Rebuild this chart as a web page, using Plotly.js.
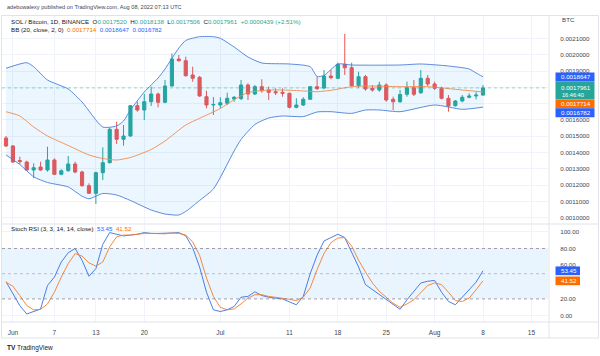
<!DOCTYPE html>
<html>
<head>
<meta charset="utf-8">
<script src="https://cdn.plot.ly/plotly-3.0.1.min.js"></script>
<style>html,body{margin:0;padding:0;background:#fff;}#chart{width:600px;height:356px;}</style>
</head>
<body>
<div id="chart"></div>
<script>
// ---- data (SOL / BTC, daily, 2022-05-31 .. 2022-08-08) ----
const startDate = '2022-05-31';
const openP = [0.0014890,0.0014399,0.0013509,0.0013417,0.0012926,0.0013110,0.0012926,0.0013540,0.0012663,0.0012883,
0.0013294,0.0012804,0.0011963,0.0011497,0.0012761,0.0013374,0.0015423,0.0014810,0.0015012,0.0016871,
0.0016607,0.0017117,0.0017589,0.0017080,0.0018080,0.0019736,0.0019632,0.0018755,0.0018613,0.0017423,
0.0016914,0.0016914,0.0017019,0.0017282,0.0017301,0.0018141,0.0017589,0.0018037,0.0017834,0.0017730,
0.0017693,0.0017632,0.0016773,0.0016914,0.0017264,0.0018037,0.0017957,0.0018693,0.0018552,0.0019411,
0.0019203,0.0018098,0.0018650,0.0017939,0.0017834,0.0018141,0.0017264,0.0017117,0.0017571,0.0017976,
0.0017669,0.0018552,0.0018202,0.0017939,0.0017325,0.0016871,0.0017160,0.0017387,0.0017466,0.0017520];
const highP = [0.0015012,0.0014460,0.0013742,0.0013497,0.0013337,0.0013436,0.0014356,0.0013644,0.0012969,0.0013785,
0.0013436,0.0012883,0.0012110,0.0012822,0.0014319,0.0015522,0.0015890,0.0015687,0.0016914,0.0017117,
0.0017589,0.0018037,0.0017669,0.0018448,0.0020086,0.0019982,0.0019877,0.0019264,0.0018693,0.0017791,
0.0017405,0.0017387,0.0017669,0.0017466,0.0018448,0.0018245,0.0018141,0.0018491,0.0018037,0.0017939,
0.0017939,0.0017669,0.0017325,0.0017387,0.0018080,0.0018650,0.0019061,0.0019061,0.0019509,0.0021270,
0.0019509,0.0018957,0.0018755,0.0018141,0.0018344,0.0018245,0.0017423,0.0017834,0.0018344,0.0018448,
0.0019061,0.0018755,0.0018344,0.0018037,0.0017528,0.0017221,0.0017528,0.0017632,0.0017730,0.0018138];
const lowP = [0.0014338,0.0013374,0.0013294,0.0012883,0.0012417,0.0012883,0.0012822,0.0012620,0.0012601,0.0012822,
0.0012724,0.0011902,0.0011454,0.0010840,0.0012313,0.0013337,0.0014521,0.0014417,0.0014969,0.0016503,
0.0015994,0.0016853,0.0016773,0.0017019,0.0018037,0.0019571,0.0018650,0.0018344,0.0017423,0.0016712,
0.0016301,0.0016712,0.0016914,0.0017117,0.0017221,0.0017221,0.0017528,0.0017669,0.0017221,0.0017528,
0.0017423,0.0016712,0.0016712,0.0016853,0.0017221,0.0017834,0.0017877,0.0018491,0.0018491,0.0018755,
0.0018037,0.0017939,0.0017791,0.0017730,0.0017730,0.0017117,0.0016607,0.0017037,0.0017423,0.0017466,
0.0017589,0.0018080,0.0017834,0.0017264,0.0016503,0.0016810,0.0017080,0.0017325,0.0017264,0.0017506];
const closeP = [0.0014399,0.0013417,0.0013448,0.0012926,0.0013068,0.0012926,0.0013540,0.0012663,0.0012883,0.0013294,
0.0012804,0.0011963,0.0011497,0.0012761,0.0013374,0.0015423,0.0014810,0.0015012,0.0016871,0.0016607,
0.0017117,0.0017589,0.0017080,0.0018080,0.0019736,0.0019632,0.0018712,0.0018552,0.0017466,0.0016914,
0.0016945,0.0017055,0.0017325,0.0017387,0.0018141,0.0017589,0.0018037,0.0017791,0.0017693,0.0017669,
0.0017632,0.0016773,0.0016914,0.0017264,0.0018037,0.0017914,0.0018693,0.0018589,0.0019411,0.0019203,
0.0018098,0.0018650,0.0017896,0.0017834,0.0018141,0.0017221,0.0017117,0.0017558,0.0017976,0.0017571,
0.0018552,0.0018202,0.0017939,0.0017325,0.0016853,0.0017160,0.0017387,0.0017466,0.0017522,0.0017961];

// Bollinger bands (day index from startDate, value)
const bbUpperDay = [0,3,4,6,9,11,14,16,17,18,20,22,23,25,26,28,30,31,33,35,37,41,44,45,46,48,50,57,60,64,67,68,69];
const bbUpper = [0.0019166,0.0019509,0.0019264,0.0018448,0.0017896,0.0017098,0.0015564,0.0015626,0.0015932,0.0016607,
0.0017712,0.0018571,0.0019123,0.0020411,0.0020871,0.0021104,0.0021104,0.0021006,0.0020472,0.0019859,
0.0019491,0.0019430,0.0019264,0.0018663,0.0018724,0.0019430,0.0019368,0.0019368,0.0019430,0.0019307,
0.0019123,0.0018877,0.0018647];
const bbBasisDay = [0,2,4,6,9,12,14,16,18,21,23,26,28,31,33,35,38,40,42,45,47,50,52,57,61,66,69];
const bbBasis = [0.0016503,0.0016239,0.0015564,0.0015012,0.0014429,0.0013847,0.0013632,0.0013540,0.0013693,0.0014184,
0.0014706,0.0015687,0.0016098,0.0016699,0.0017239,0.0017681,0.0017834,0.0017834,0.0017804,0.0017730,
0.0017816,0.0018037,0.0018080,0.0018037,0.0018037,0.0017834,0.0017714];
const bbLowerDay = [0,2,4,6,9,11,12,14,16,18,21,23,25,26,28,30,33,34,36,38,40,43,45,47,50,52,54,57,62,66,69];
const bbLower = [0.0013847,0.0013264,0.0012509,0.0012160,0.0011883,0.0011319,0.0011160,0.0011485,0.0011393,0.0011055,
0.0010472,0.0010227,0.0010166,0.0010380,0.0011055,0.0011761,0.0014092,0.0014798,0.0015718,0.0016117,
0.0016239,0.0016202,0.0016485,0.0016503,0.0016399,0.0016607,0.0016607,0.0016503,0.0016914,0.0016650,
0.0016782];

// Stoch RSI (one value per day)
const stochK = [40.5,27,12,2,5,8,36,46,64,75,80,66,47,56,85,99,97,95,96,97,
99,98,98,98,98.5,99,95,81,58,28,7,5,7,11,22,23,28.5,24,22,21,
20,16.5,13,23,50,72,89,93,97,93,75,58,37,31,25,19,13,7.6,19,29,
39,41,42,28,17,13,22,30,40,53.45];
const stochD = [40,35,24,12,7,7.5,14,28,46,62,74,71,63,59,64,82,94,96,96,97,
98,98,97.5,97.5,98.5,98,96,88,72,45,23,10,7,8,14,21,25,25,23,22,
21,19.5,18,22,33,55,74,87,92.5,93,83,66,52,39,29,22,15,10,14,19,
27,36,39,37,28,18,17,21,31,41.52];

const tickDates = ['2022-06-01','2022-06-07','2022-06-13','2022-06-20','2022-07-01','2022-07-11','2022-07-18','2022-07-25','2022-08-01','2022-08-08','2022-08-15'];
const tickText = ['Jun','7','13','20','Jul','11','18','25','Aug','8','15'];
const priceTicks = [0.0010,0.0011,0.0012,0.0013,0.0014,0.0015,0.0016,0.0017,0.0018,0.0019,0.0020,0.0021];
const rsiTicks = [0,20,40,60,80,100];

// ---- build ----
function dayStr(i){const d=new Date(startDate+'T00:00:00Z');d.setUTCDate(d.getUTCDate()+i);return d.toISOString().slice(0,10);}
const dates = openP.map((_,i)=>dayStr(i));
const toDates = arr => arr.map(dayStr);

const GREEN='#26a69a', RED='#ef5350', BLUE='#2962FF', ORANGE='#FF6D00';
const BANDBLUE='#4a7fd8', BASIS='#f58a4b';
const F="'Liberation Sans', Arial, sans-serif";

const traces = [
 {type:'scatter',mode:'lines',x:toDates(bbUpperDay),y:bbUpper,line:{color:BANDBLUE,width:0.9,shape:'spline',smoothing:0.6},xaxis:'x',yaxis:'y',hoverinfo:'skip'},
 {type:'scatter',mode:'lines',x:toDates(bbLowerDay),y:bbLower,line:{color:BANDBLUE,width:0.9,shape:'spline',smoothing:0.6},fill:'tonexty',fillcolor:'rgba(33,150,243,0.09)',xaxis:'x',yaxis:'y',hoverinfo:'skip'},
 {type:'scatter',mode:'lines',x:toDates(bbBasisDay),y:bbBasis,line:{color:BASIS,width:0.9,shape:'spline',smoothing:0.6},xaxis:'x',yaxis:'y',hoverinfo:'skip'},
 {type:'candlestick',x:dates,open:openP,high:highP,low:lowP,close:closeP,
  increasing:{line:{color:GREEN,width:1},fillcolor:GREEN},
  decreasing:{line:{color:RED,width:1},fillcolor:RED},
  whiskerwidth:0,xaxis:'x',yaxis:'y',hoverinfo:'skip'},
 {type:'scatter',mode:'lines',x:dates,y:stochK,line:{color:'#3b6fe0',width:0.9},xaxis:'x',yaxis:'y2',hoverinfo:'skip'},
 {type:'scatter',mode:'lines',x:dates,y:stochD,line:{color:'#f57c2c',width:0.9},xaxis:'x',yaxis:'y2',hoverinfo:'skip'}
];

// pixel -> paper helpers (plot area: x 2..548, y 16..322)
const L=2, R=52, T=16, B=34, W=600, H=356;
const pw=W-L-R, ph=H-T-B;
const px = v => (v-L)/pw;
const py = v => (H-B-v)/ph;

const last = closeP.length-1;
const f7 = v => v.toFixed(7);
const K = stochK[last], D = stochD[last];

const shapes = [
 // RSI band
 {type:'rect',xref:'paper',x0:0,x1:1,yref:'y2',y0:20,y1:80,fillcolor:'rgba(33,150,243,0.1)',line:{width:0},layer:'below'},
 {type:'line',xref:'paper',x0:0,x1:1,yref:'y2',y0:80,y1:80,line:{color:'rgba(120,123,134,0.7)',width:1,dash:'3px,3px'}},
 {type:'line',xref:'paper',x0:0,x1:1,yref:'y2',y0:50,y1:50,line:{color:'rgba(120,123,134,0.45)',width:1,dash:'3px,3px'}},
 {type:'line',xref:'paper',x0:0,x1:1,yref:'y2',y0:20,y1:20,line:{color:'rgba(120,123,134,0.7)',width:1,dash:'3px,3px'}},
 // last price line
 {type:'line',xref:'paper',x0:0,x1:1,yref:'y',y0:closeP[last],y1:closeP[last],line:{color:'rgba(38,166,154,0.45)',width:1,dash:'dot'}},
 // frame & separators
 {type:'rect',xref:'paper',yref:'paper',x0:px(1.5),x1:px(598.5),y0:py(338),y1:py(15.5),line:{color:'#e0e3eb',width:1}},
 {type:'line',xref:'paper',yref:'paper',x0:px(1.5),x1:px(598.5),y0:py(224),y1:py(224),line:{color:'#e0e3eb',width:1}},
 {type:'line',xref:'paper',yref:'paper',x0:px(1.5),x1:px(598.5),y0:py(322),y1:py(322),line:{color:'#e0e3eb',width:1}},
 {type:'line',xref:'paper',yref:'paper',x0:px(549),x1:px(549),y0:py(338),y1:py(15.5),line:{color:'#e0e3eb',width:1}},
 // right-scale label boxes
 {type:'rect',xref:'paper',yref:'paper',x0:px(555.5),x1:px(594.5),y0:py(81.5),y1:py(72.5),fillcolor:BLUE,line:{width:0}},
 {type:'rect',xref:'paper',yref:'paper',x0:px(555.5),x1:px(594.5),y0:py(99),y1:py(81.5),fillcolor:GREEN,line:{width:0}},
 {type:'rect',xref:'paper',yref:'paper',x0:px(555.5),x1:px(594.5),y0:py(108.3),y1:py(99.3),fillcolor:ORANGE,line:{width:0}},
 {type:'rect',xref:'paper',yref:'paper',x0:px(555.5),x1:px(594.5),y0:py(117.3),y1:py(108.3),fillcolor:BLUE,line:{width:0}},
 {type:'rect',xref:'paper',yref:'y2',x0:px(555.5),x1:px(580),y0:K-5.2,y1:K+5.2,fillcolor:BLUE,line:{width:0}},
 {type:'rect',xref:'paper',yref:'y2',x0:px(555.5),x1:px(580),y0:D-5.2,y1:D+5.2,fillcolor:ORANGE,line:{width:0}}
];

const fs=6.2;
const grayC='#131722';
const ann = (x,y,text,opts={}) => Object.assign({xref:'paper',yref:'paper',x:px(x),y:py(y),text:text,showarrow:false,xanchor:'left',yanchor:'middle',font:{family:F,size:fs,color:grayC}},opts);
const sp='\u00a0\u00a0';
const teal = s => '<span style="color:'+GREEN+'">'+s+'</span>';
const chg = closeP[last]-closeP[last-1];
const chgPct = chg/closeP[last-1]*100;

const annotations = [
 ann(5,7,'adebowalexy published on TradingView.com, Aug 08, 2022 07:13 UTC',{font:{family:F,size:5.6,color:'#434651'}}),
 ann(9,21,'SOL / Bitcoin, 1D, BINANCE'+sp+'O'+teal(f7(openP[last]))+sp+'H'+teal(f7(highP[last]))+sp+'L'+teal(f7(lowP[last]))+sp+'C'+teal(f7(closeP[last]))+sp+teal('+'+f7(chg)+' (+'+chgPct.toFixed(2)+'%)')),
 ann(9,30,'BB (20, close, 2, 0)'+sp+'<span style="color:'+ORANGE+'">'+f7(bbBasis[bbBasis.length-1])+'</span>'+sp+'<span style="color:'+BLUE+'">'+f7(bbUpper[bbUpper.length-1])+'</span>'+sp+'<span style="color:'+BLUE+'">'+f7(bbLower[bbLower.length-1])+'</span>'),
 ann(9,228,'Stoch RSI (3, 3, 14, 14, close)'+sp+'<span style="color:'+BLUE+'">'+K.toFixed(2)+'</span>'+sp+'<span style="color:'+ORANGE+'">'+D.toFixed(2)+'</span>'),
 ann(560,20,'BTC',{font:{family:F,size:fs,color:'#434651'}}),
 ann(558.5,77,f7(bbUpper[bbUpper.length-1]),{font:{family:F,size:fs,color:'#fff'}}),
 ann(558.5,87.5,f7(closeP[last]),{font:{family:F,size:fs,color:'#fff'}}),
 ann(560,95,'16:46:40',{font:{family:F,size:5.6,color:'#fff'}}),
 ann(558.5,103.8,f7(bbBasis[bbBasis.length-1]),{font:{family:F,size:fs,color:'#fff'}}),
 ann(558.5,112.8,f7(bbLower[bbLower.length-1]),{font:{family:F,size:fs,color:'#fff'}}),
 {xref:'paper',yref:'y2',x:px(558.5),y:K,text:K.toFixed(2),showarrow:false,xanchor:'left',yanchor:'middle',font:{family:F,size:fs,color:'#fff'}},
 {xref:'paper',yref:'y2',x:px(558.5),y:D,text:D.toFixed(2),showarrow:false,xanchor:'left',yanchor:'middle',font:{family:F,size:fs,color:'#fff'}},
 ann(5,348,'<b>TV</b> TradingView',{font:{family:F,size:6.5,color:'#131722'}})
];

const gridC='#f0f3fa';
const layout = {
 width:W,height:H,margin:{l:L,r:R,t:T,b:B},
 paper_bgcolor:'#fff',plot_bgcolor:'#fff',showlegend:false,hovermode:false,dragmode:false,
 font:{family:F,size:fs,color:'#434651'},
 xaxis:{type:'date',range:['2022-05-30 10:06','2022-08-17 09:36'],anchor:'y2',
  tickvals:tickDates,ticktext:tickText,showgrid:true,gridcolor:gridC,gridwidth:1,
  zeroline:false,showline:false,ticks:'outside',ticklen:4,tickcolor:'rgba(0,0,0,0)',
  tickfont:{family:F,size:6.5,color:'#434651'},rangeslider:{visible:false},fixedrange:true},
 yaxis:{domain:[py(224),1],range:[0.00096135,0.0022374],side:'right',anchor:'x',
  tickvals:priceTicks,tickformat:'.7f',showgrid:true,gridcolor:gridC,zeroline:false,showline:false,
  ticks:'outside',ticklen:10,tickcolor:'rgba(0,0,0,0)',tickfont:{family:F,size:fs,color:'#434651'},fixedrange:true},
 yaxis2:{domain:[0,py(224)],range:[-7.5,109.2],side:'right',anchor:'x',
  tickvals:rsiTicks,tickformat:'.2f',showgrid:true,gridcolor:gridC,zeroline:false,showline:false,
  ticks:'outside',ticklen:10,tickcolor:'rgba(0,0,0,0)',tickfont:{family:F,size:fs,color:'#434651'},fixedrange:true},
 boxgap:0.35,
 shapes:shapes,annotations:annotations
};

Plotly.newPlot('chart',traces,layout,{staticPlot:true,displayModeBar:false});
</script>
</body>
</html>
